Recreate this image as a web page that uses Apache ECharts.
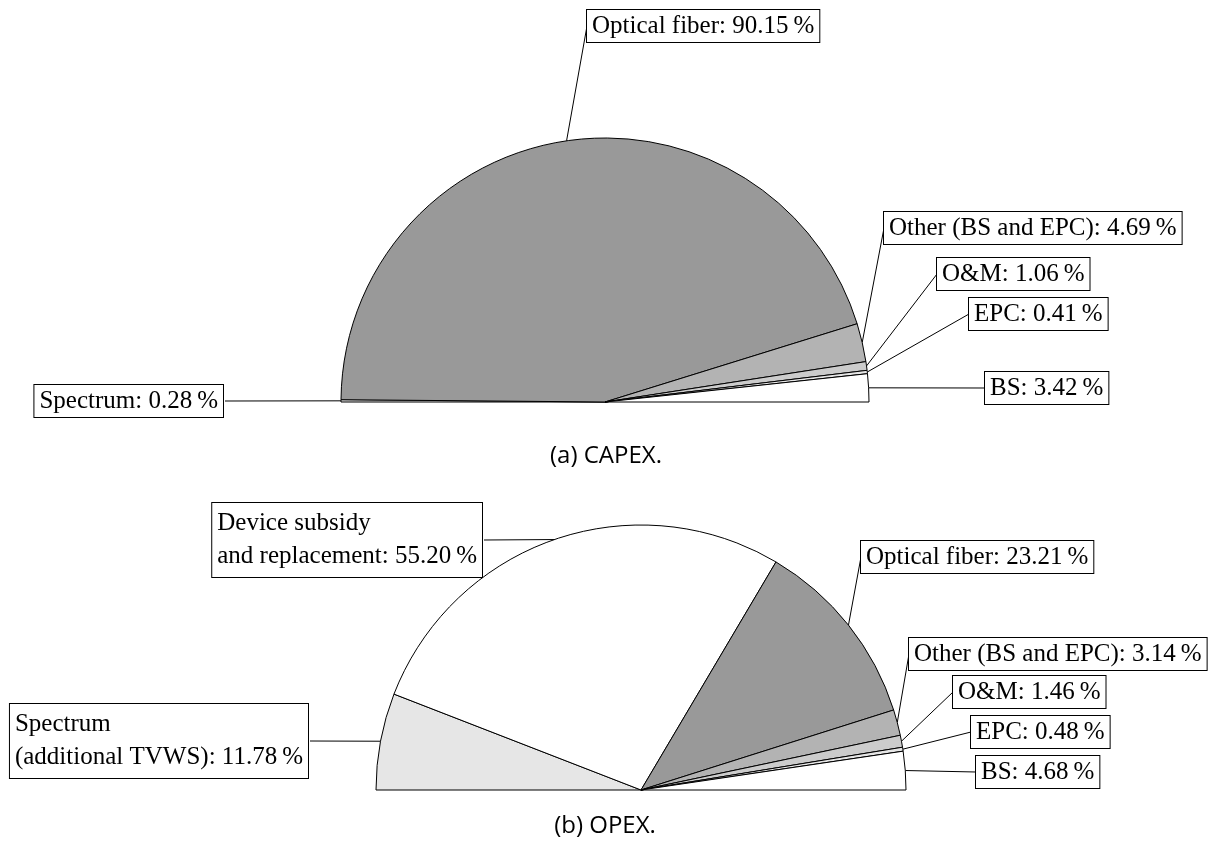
<!DOCTYPE html>
<html><head><meta charset="utf-8">
<script src="https://cdn.jsdelivr.net/npm/echarts@6/dist/echarts.min.js"></script>
<style>html,body{margin:0;padding:0;background:#fff}#c{width:1219px;height:843px}</style>
</head><body><div id="c"></div>
<script>
// ---- data (slices ordered from the left end of the half-disc, clockwise) ----
const capexNames  = ['Spectrum', 'Optical fiber', 'Other (BS and EPC)', 'O&M', 'EPC', 'BS'];
const capexValues = [0.28, 90.15, 4.69, 1.06, 0.41, 3.42];
const opexNames   = ['Spectrum\n(additional TVWS)', 'Device subsidy\nand replacement', 'Optical fiber', 'Other (BS and EPC)', 'O&M', 'EPC', 'BS'];
const opexValues  = [11.78, 55.20, 23.21, 3.14, 1.46, 0.48, 4.68];
const captions    = ['(a) CAPEX.', '(b) OPEX.'];

// ---- styles / layout ----
const capexColors = ['#e6e6e6', '#999999', '#b3b3b3', '#cccccc', '#e6e6e6', '#ffffff'];
const opexColors  = ['#e6e6e6', '#ffffff', '#999999', '#b3b3b3', '#cccccc', '#e6e6e6', '#ffffff'];
// label box anchor [x, yMiddle, side]: 'left' = x is left edge, 'right' = x is right edge
const capexLabelPos = [[225, 401, 'right'], [587, 26, 'left'], [884, 228, 'left'], [937, 274, 'left'], [969, 314, 'left'], [985, 388, 'left']];
const opexLabelPos  = [[310, 741, 'right'], [484, 540, 'right'], [861, 557, 'left'], [909, 654, 'left'], [953, 692, 'left'], [971, 732, 'left'], [976, 772, 'left']];

const chart = echarts.init(document.getElementById('c'), null, {renderer: 'canvas'});

function fmt(p) { return p.name + ': ' + p.value.toFixed(2) + '\u2009%'; }

function makeSeries(names, values, colors, center, radius, labelPos) {
  return {
    type: 'pie',
    center: center,
    radius: radius,
    startAngle: 180,
    endAngle: 0,
    clockwise: true,
    avoidLabelOverlap: false,
    animation: false,
    silent: true,
    data: names.map(function (n, i) {
      const item = {name: n, value: values[i], itemStyle: {color: colors[i]}};
      if (n.indexOf('\n') >= 0) item.label = {lineHeight: 33, padding: [4, 5, 4, 5]};
      return item;
    }),
    itemStyle: {borderColor: '#000', borderWidth: 1},
    label: {
      show: true, position: 'outside', formatter: fmt,
      fontFamily: 'Liberation Serif', fontSize: 25, lineHeight: 26, color: '#000',
      backgroundColor: '#fff', borderColor: '#000', borderWidth: 1,
      padding: [3, 5, 3, 5], overflow: 'none'
    },
    labelLine: {show: true, length: 10, length2: 10, lineStyle: {color: '#000', width: 1}},
    labelLayout: function (p) {
      const lp = labelPos[p.dataIndex];
      const a = (p.labelLinePoints && p.labelLinePoints[0]) || [lp[0], lp[1]];
      const w = p.labelRect ? p.labelRect.width : 0;
      const left = lp[2] === 'right' ? lp[0] - w : lp[0];
      return {
        x: left, y: lp[1], align: 'left', verticalAlign: 'middle',
        labelLinePoints: [a, [lp[0], lp[1]], [lp[0], lp[1]]]
      };
    },
    emphasis: {disabled: true}
  };
}

chart.setOption({
  animation: false,
  backgroundColor: '#fff',
  graphic: [
    {type: 'text', x: 606, y: 456, style: {text: captions[0], fontFamily: 'Open Sans', fontSize: 24, fill: '#000', textAlign: 'center', textVerticalAlign: 'middle'}},
    {type: 'text', x: 605, y: 826, style: {text: captions[1], fontFamily: 'Open Sans', fontSize: 24, fill: '#000', textAlign: 'center', textVerticalAlign: 'middle'}}
  ],
  series: [
    makeSeries(capexNames, capexValues, capexColors, [605, 402], 264, capexLabelPos),
    makeSeries(opexNames, opexValues, opexColors, [641, 790], 265, opexLabelPos)
  ]
});
</script></body></html>
